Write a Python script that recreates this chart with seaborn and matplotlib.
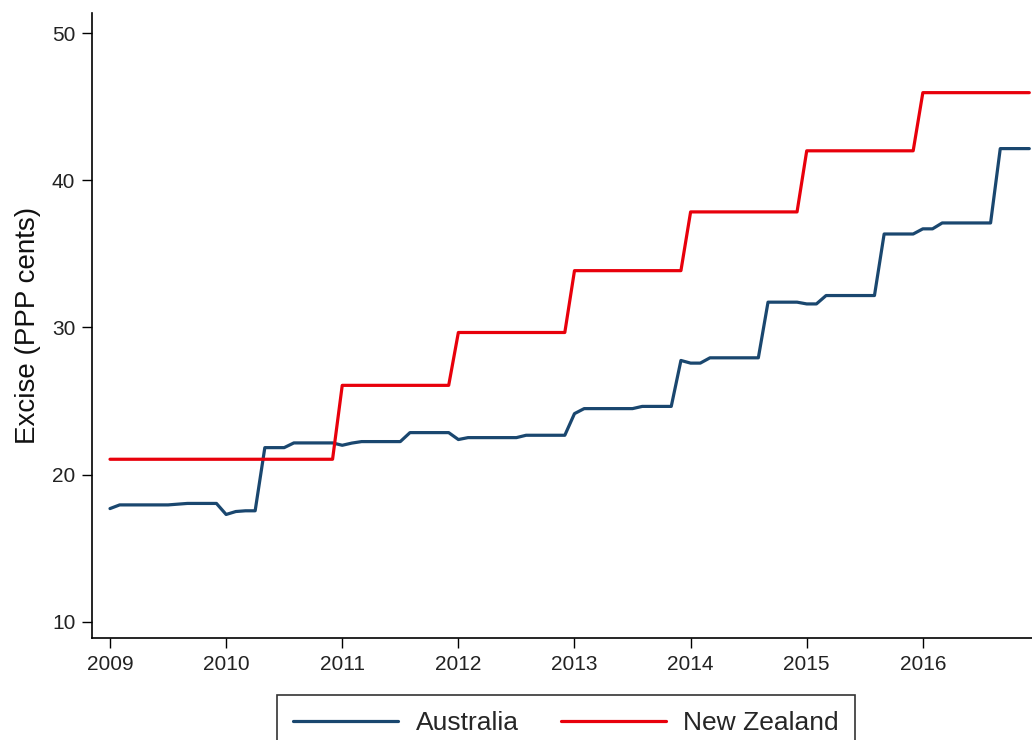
import matplotlib
matplotlib.use('Agg')
import matplotlib.pyplot as plt
import seaborn as sns
import pandas as pd

# monthly series, Jan 2009 - Dec 2016
years = [2009, 2010, 2011, 2012, 2013, 2014, 2015, 2016]

aus_excise = [
    17.70, 17.95, 17.95, 17.95, 17.95, 17.95, 17.95, 18.00, 18.05, 18.05, 18.05, 18.05,  # 2009
    17.30, 17.50, 17.55, 17.55, 21.84, 21.84, 21.84, 22.16, 22.16, 22.16, 22.16, 22.16,  # 2010
    22.00, 22.15, 22.25, 22.25, 22.25, 22.25, 22.25, 22.86, 22.86, 22.86, 22.86, 22.86,  # 2011
    22.39, 22.52, 22.52, 22.52, 22.52, 22.52, 22.52, 22.68, 22.68, 22.68, 22.68, 22.68,  # 2012
    24.15, 24.49, 24.49, 24.49, 24.49, 24.49, 24.49, 24.64, 24.64, 24.64, 24.64, 27.76,  # 2013
    27.58, 27.58, 27.94, 27.94, 27.94, 27.94, 27.94, 27.94, 31.72, 31.72, 31.72, 31.72,  # 2014
    31.60, 31.60, 32.17, 32.17, 32.17, 32.17, 32.17, 32.17, 36.35, 36.35, 36.35, 36.35,  # 2015
    36.70, 36.70, 37.10, 37.10, 37.10, 37.10, 37.10, 37.10, 42.15, 42.15, 42.15, 42.15,  # 2016
]

nz_excise = [
    21.05, 21.05, 21.05, 21.05, 21.05, 21.05, 21.05, 21.05, 21.05, 21.05, 21.05, 21.05,  # 2009
    21.05, 21.05, 21.05, 21.05, 21.05, 21.05, 21.05, 21.05, 21.05, 21.05, 21.05, 21.05,  # 2010
    26.07, 26.07, 26.07, 26.07, 26.07, 26.07, 26.07, 26.07, 26.07, 26.07, 26.07, 26.07,  # 2011
    29.66, 29.66, 29.66, 29.66, 29.66, 29.66, 29.66, 29.66, 29.66, 29.66, 29.66, 29.66,  # 2012
    33.86, 33.86, 33.86, 33.86, 33.86, 33.86, 33.86, 33.86, 33.86, 33.86, 33.86, 33.86,  # 2013
    37.85, 37.85, 37.85, 37.85, 37.85, 37.85, 37.85, 37.85, 37.85, 37.85, 37.85, 37.85,  # 2014
    42.00, 42.00, 42.00, 42.00, 42.00, 42.00, 42.00, 42.00, 42.00, 42.00, 42.00, 42.00,  # 2015
    45.95, 45.95, 45.95, 45.95, 45.95, 45.95, 45.95, 45.95, 45.95, 45.95, 45.95, 45.95,  # 2016
]

y_ticks = [10, 20, 30, 40, 50]

# decimal time for each month
month_pos = [y + m / 12 for y in years for m in range(12)]

df = pd.DataFrame({
    "date": month_pos * 2,
    "excise": aus_excise + nz_excise,
    "country": ["Australia"] * len(aus_excise) + ["New Zealand"] * len(nz_excise),
})

sns.set_style("white")
plt.rcParams['font.family'] = ['Liberation Sans', 'DejaVu Sans']

fig = plt.figure(figsize=(10.32, 7.40), dpi=100)
ax = fig.add_axes([92 / 1032, 1 - 638 / 740, 1 - 92 / 1032, (638 - 13) / 740])

sns.lineplot(data=df, x="date", y="excise", hue="country",
             palette={"Australia": "#1a476f", "New Zealand": "#e8000b"},
             linewidth=2.3, ax=ax, legend=False)

ax.set_xlim(2008.845, 2016.94)
ax.set_ylim(8.91, 51.36)
ax.set_xticks(years)
ax.set_xticklabels([str(y) for y in years])
ax.set_yticks(y_ticks)
ax.set_xlabel("")
ax.set_ylabel("Excise (PPP cents)", fontsize=20, labelpad=8, color="#111111")

for side in ["top", "right"]:
    ax.spines[side].set_visible(False)
for side in ["left", "bottom"]:
    ax.spines[side].set_color("black")
    ax.spines[side].set_linewidth(1.2)

ax.tick_params(axis="both", which="major", direction="out", length=7, width=1,
               color="black", labelsize=15, labelcolor="#222222", pad=5,
               bottom=True, left=True)

# legend box below the plot, its lower edge runs off the figure
handles = [plt.Line2D([], [], color="#1a476f", linewidth=2.3),
           plt.Line2D([], [], color="#e8000b", linewidth=2.3)]
leg = fig.legend(handles, ["Australia", "New Zealand"], loc="upper left",
                 bbox_to_anchor=(277 / 1032, 1 - 695 / 740), borderaxespad=0,
                 ncol=2, fontsize=19, frameon=True, fancybox=False,
                 handlelength=4, handletextpad=0.65, columnspacing=1.6,
                 borderpad=0.6)
leg.get_frame().set_edgecolor("black")
leg.get_frame().set_linewidth(1.2)

plt.savefig("out.png", dpi=100)
plt.close()
